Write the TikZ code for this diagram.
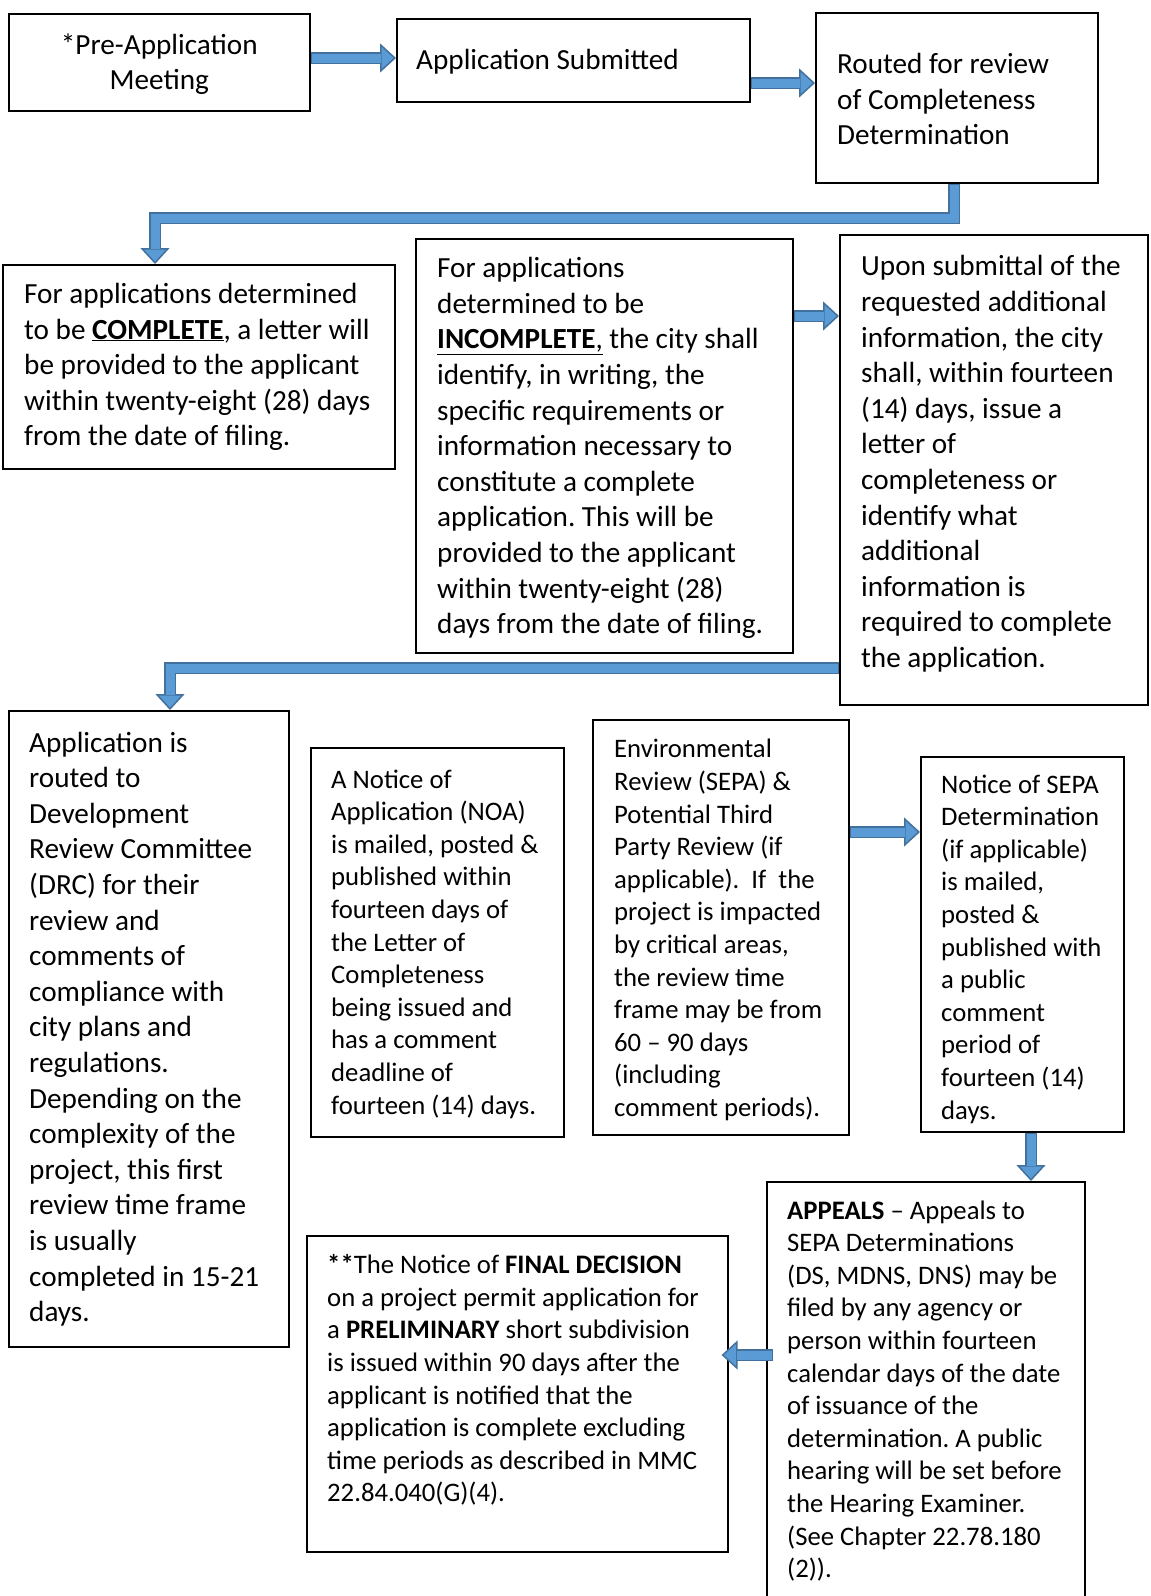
\documentclass[tikz,border=0pt]{standalone}
\usepackage{fontspec}
\setmainfont{Carlito}
\usetikzlibrary{arrows.meta}
\definecolor{arrowfill}{HTML}{5B9BD5}
\definecolor{arrowline}{HTML}{41719C}
\newcommand{\bigtxt}{\fontsize{29.2}{35.6}\selectfont}
\newcommand{\smalltxt}{\fontsize{26.7}{32.6}\selectfont}
\frenchspacing
\begin{document}
\begin{tikzpicture}[x=1pt, y=-1pt,
    box/.style={draw, line width=1.6pt, anchor=north west, inner sep=0pt},
    txt/.style={align=left, anchor=west, inner sep=0pt},
    flow/.style={line width=12pt, arrowline, -{Triangle[length=16pt,width=29pt,fill=arrowfill,line width=1.5pt]}},
    flowfill/.style={line width=9pt, arrowfill, shorten <=1.5pt, shorten >=15pt}]
    \useasboundingbox (0,0) rectangle (1151,1596);
    \node[box, minimum width=301pt, minimum height=97pt] (pre) at (8,13) {};
    \node[align=center, inner sep=0pt, font=\bigtxt] (pre-t) at ([yshift=-2pt]pre.center) {*Pre-Application\\Meeting};
    \node[box, minimum width=353pt, minimum height=83pt] (sub) at (396,18) {};
    \node[txt, font=\bigtxt] (sub-t) at (416,62) {Application Submitted};
    \node[box, minimum width=282pt, minimum height=170pt] (rout) at (815,12) {};
    \node[txt, font=\bigtxt] (rout-t) at (837,99) {Routed for review\\of Completeness\\Determination};
    \node[box, minimum width=392pt, minimum height=204pt] (comp) at (2,264) {};
    \node[txt, font=\bigtxt] (comp-t) at (24,367) {For applications determined\\to be \underline{\textbf{COMPLETE}}, a letter will\\be provided to the applicant\\within twenty-eight (28) days\\from the date of filing.};
    \node[box, minimum width=377pt, minimum height=414pt] (inc) at (415,238) {};
    \node[txt, font=\bigtxt] (inc-t) at (437,448) {For applications\\determined to be\\\underline{\textbf{INCOMPLETE},} the city shall\\identify, in writing, the\\specific requirements or\\information necessary to\\constitute a complete\\application. This will be\\provided to the applicant\\within twenty-eight (28)\\days from the date of filing.};
    \node[box, minimum width=308pt, minimum height=470pt] (upon) at (839,234) {};
    \node[txt, font=\bigtxt] (upon-t) at (861,464) {Upon submittal of the\\requested additional\\information, the city\\shall, within fourteen\\(14) days, issue a\\letter of\\completeness or\\identify what\\additional\\information is\\required to complete\\the application.};
    \node[box, minimum width=280pt, minimum height=636pt] (drc) at (8,710) {};
    \node[txt, font=\bigtxt] (drc-t) at (29,1029) {Application is\\routed to\\Development\\Review Committee\\(DRC) for their\\review and\\comments of\\compliance with\\city plans and\\regulations.\\Depending on the\\complexity of the\\project, this first\\review time frame\\is usually\\completed in 15-21\\days.};
    \node[box, minimum width=253pt, minimum height=389pt] (noa) at (310,747) {};
    \node[txt, font=\smalltxt] (noa-t) at (331,944) {A Notice of\\Application (NOA)\\is mailed, posted \&\\published within\\fourteen days of\\the Letter of\\Completeness\\being issued and\\has a comment\\deadline of\\fourteen (14) days.};
    \node[box, minimum width=256pt, minimum height=415pt] (env) at (592,719) {};
    \node[txt, font=\smalltxt] (env-t) at (614,930) {Environmental\\Review (SEPA) \&\\Potential Third\\Party Review (if\\applicable).~ If~ the\\project is impacted\\by critical areas,\\the review time\\frame may be from\\60 -- 90 days\\(including\\comment periods).};
    \node[box, minimum width=203pt, minimum height=375pt] (sepa) at (920,756) {};
    \node[txt, font=\smalltxt] (sepa-t) at (941,949) {Notice of SEPA\\Determination\\(if applicable)\\is mailed,\\posted \&\\published with\\a public\\comment\\period of\\fourteen (14)\\days.};
    \node[box, minimum width=318pt, minimum height=440pt] (app) at (766,1181) {};
    \node[txt, font=\smalltxt] (app-t) at (787,1391) {\textbf{APPEALS} -- Appeals to\\SEPA Determinations\\(DS, MDNS, DNS) may be\\filed by any agency or\\person within fourteen\\calendar days of the date\\of issuance of the\\determination. A public\\hearing will be set before\\the Hearing Examiner.\\(See Chapter 22.78.180\\(2)).};
    \node[box, minimum width=421pt, minimum height=316pt] (fin) at (306,1235) {};
    \node[txt, font=\smalltxt] (fin-t) at (327,1380) {\textbf{**}The Notice of \textbf{FINAL DECISION}\\on a project permit application for\\a \textbf{PRELIMINARY} short subdivision\\is issued within 90 days after the\\applicant is notified that the\\application is complete excluding\\time periods as described in MMC\\22.84.040(G)(4).};
    \draw[flow] (pre.east |- 0,58) -- (sub.west |- 0,58);
    \draw[flowfill] (pre.east |- 0,58) -- (sub.west |- 0,58);
    \draw[flow] (sub.east |- 0,83) -- (rout.west |- 0,83);
    \draw[flowfill] (sub.east |- 0,83) -- (rout.west |- 0,83);
    \draw[flow] (rout.south -| 954,0) -- (954,218) -- (155,218) -- (comp.north -| 155,0);
    \draw[flowfill] (rout.south -| 954,0) -- (954,218) -- (155,218) -- (comp.north -| 155,0);
    \draw[flow] (inc.east |- 0,316) -- (upon.west |- 0,316);
    \draw[flowfill] (inc.east |- 0,316) -- (upon.west |- 0,316);
    \draw[flow] (upon.west |- 0,668) -- (170,668) -- (drc.north -| 170,0);
    \draw[flowfill] (upon.west |- 0,668) -- (170,668) -- (drc.north -| 170,0);
    \draw[flow] (env.east |- 0,832) -- (sepa.west |- 0,832);
    \draw[flowfill] (env.east |- 0,832) -- (sepa.west |- 0,832);
    \draw[flow] (sepa.south -| 1031,0) -- (app.north -| 1031,0);
    \draw[flowfill] (sepa.south -| 1031,0) -- (app.north -| 1031,0);
    \draw[flow, shorten <=-7pt, shorten >=-7pt] (app.west |- 0,1355) -- (fin.east |- 0,1355);
    \draw[flowfill, shorten <=-5.5pt, shorten >=8pt] (app.west |- 0,1355) -- (fin.east |- 0,1355);
\end{tikzpicture}
\end{document}
